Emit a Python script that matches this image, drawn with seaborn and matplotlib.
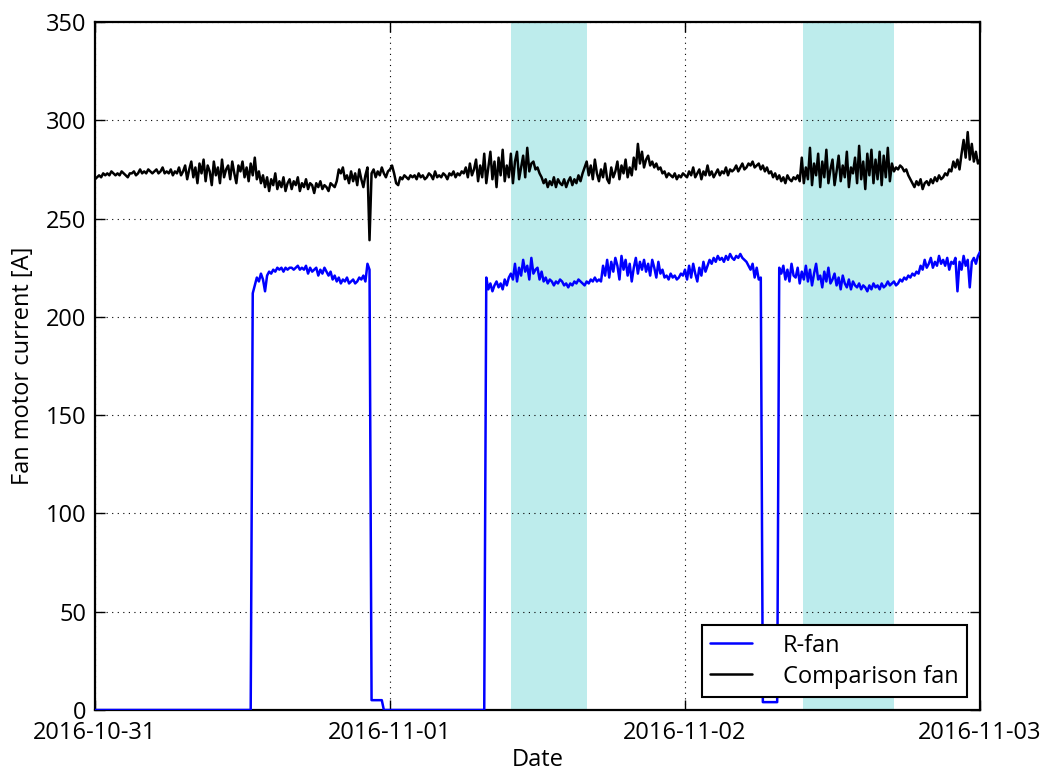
import numpy as np
import pandas as pd
import matplotlib
matplotlib.use("Agg")
import matplotlib.pyplot as plt
import matplotlib.dates as mdates
import seaborn as sns

# ---------------- data (10-minute samples) ----------------
start_time = "2016-10-31 00:00"
sample_freq = "10min"

comparison_day1 = [
    270, 271, 272, 271, 273, 272, 273, 272, 274, 273, 272, 273,
    272, 274, 273, 272, 271, 273, 273, 274, 272, 273, 275, 273,
    274, 273, 275, 274, 273, 274, 275, 273, 274, 276, 273, 274,
    273, 275, 272, 274, 273, 276, 272, 274, 277, 270, 275, 279,
    271, 276, 268, 278, 273, 280, 269, 277, 274, 267, 279, 272,
    276, 268, 280, 271, 275, 277, 270, 279, 273, 268, 277, 274,
    279, 271, 276, 269, 278, 272, 281, 270, 274, 268, 272, 266,
    271, 264, 270, 267, 273, 265, 269, 266, 271, 264, 268, 270,
    265, 269, 267, 271, 264, 268, 266, 270, 265, 268, 267, 263,
    268, 266, 269, 265, 267, 266, 264, 268, 267, 266, 269, 275,
    273, 276, 270, 272, 268, 274, 269, 273, 267, 275, 270, 266,
    272, 276, 239, 273, 275, 271, 274, 272, 276, 273, 271, 274,
]
comparison_day2 = [
    275, 277, 273, 268, 267, 271, 270, 272, 271, 270, 272, 271,
    272, 270, 273, 271, 272, 270, 271, 273, 272, 270, 274, 271,
    272, 271, 273, 272, 270, 273, 272, 274, 271, 273, 272, 274,
    273, 276, 271, 278, 272, 275, 280, 269, 277, 271, 283, 268,
    276, 284, 270, 279, 266, 281, 272, 285, 269, 277, 271, 283,
    268, 279, 284, 270, 276, 282, 271, 286, 274, 278, 279, 275,
    276, 273, 271, 268, 270, 266, 269, 267, 271, 266, 270, 268,
    267, 270, 266, 269, 271, 267, 270, 268, 272, 269, 273, 276,
    279, 272, 277, 270, 280, 273, 269, 275, 271, 278, 270, 268,
    276, 271, 274, 279, 270, 277, 273, 280, 271, 276, 272, 281,
    275, 288, 278, 284, 276, 280, 282, 277, 279, 276, 278, 275,
    276, 273, 274, 271, 273, 272, 271, 273, 270, 272, 271, 273,
]
comparison_day3 = [
    272, 271, 274, 272, 276, 271, 273, 275, 270, 274, 272, 277,
    272, 274, 271, 273, 275, 272, 274, 273, 276, 272, 275, 274,
    275, 277, 274, 276, 278, 275, 276, 278, 277, 279, 276, 277,
    278, 275, 277, 274, 276, 273, 274, 271, 273, 270, 272, 269,
    271, 268, 272, 270, 269, 271, 270, 272, 269, 281, 268, 276,
    270, 286, 267, 278, 272, 283, 266, 279, 271, 285, 268, 275,
    280, 267, 274, 282, 269, 277, 271, 284, 266, 276, 273, 281,
    268, 287, 270, 279, 265, 283, 272, 285, 268, 280, 270, 284,
    267, 282, 271, 286, 269, 278, 274, 276, 275, 277, 276, 274,
    275, 272, 270, 268, 266, 269, 267, 270, 265, 268, 269, 267,
    270, 268, 271, 269, 272, 270, 271, 273, 272, 275, 274, 279,
    276, 280, 275, 283, 290, 281, 294, 280, 288, 279, 284, 278,
    280,
]

rfan_day1 = [0] * 72 + [
    0, 0, 0, 0, 0, 212, 216, 220, 218, 222, 219, 213,
    221, 223, 222, 224, 223, 225, 224, 225, 223, 225, 224, 225,
    225, 224, 225, 226, 224, 225, 224, 226, 222, 225, 223, 224,
    225, 221, 224, 222, 225, 223, 221, 223, 219, 221, 218, 220,
    217, 219, 218, 220, 217, 218, 219, 217, 218, 220, 219, 221,
    218, 227, 224, 5, 5, 5, 5, 5, 5, 0, 0, 0,
]
rfan_day2 = [0] * 42 + [
    0, 0, 0, 0, 0, 220, 214, 217, 213, 216, 218, 215,
    217, 214, 219, 216, 220, 222, 219, 227, 218, 225, 221, 229,
    223, 226, 219, 230, 222, 224, 225, 219, 223, 218, 220, 217,
    219, 218, 216, 218, 217, 219, 218, 216, 217, 215, 217, 216,
    218, 217, 219, 218, 217, 216, 218, 217, 219, 218, 220, 218,
    219, 218, 226, 221, 229, 220, 228, 223, 230, 226, 219, 231,
    224, 229, 221, 227, 218, 225, 230, 222, 228, 224, 229, 223,
    227, 221, 229, 225, 220, 228, 222, 224, 220, 221, 219, 222,
    220, 221, 219, 220, 222, 221,
]
rfan_day3 = [
    224, 219, 226, 220, 227, 222, 218, 225, 221, 228, 223, 226,
    229, 227, 230, 228, 231, 229, 230, 228, 231, 229, 232, 230,
    229, 231, 230, 232, 230, 229, 228, 226, 224, 227, 220, 225,
    219, 220, 4, 4, 4, 4, 4, 4, 4, 4, 225, 222,
    226, 219, 224, 218, 227, 221, 220, 225, 217, 223, 219, 226,
    218, 224, 216, 222, 227, 219, 221, 215, 223, 218, 225, 217,
    219, 222, 216, 220, 214, 221, 217, 215, 219, 214, 218, 216,
    215, 217, 214, 216, 215, 213, 216, 214, 217, 215, 216, 214,
    217, 215, 216, 218, 216, 217, 218, 216, 217, 219, 218, 220,
    219, 221, 220, 222, 221, 223, 222, 226, 224, 229, 225, 227,
    230, 225, 228, 226, 231, 227, 229, 226, 230, 224, 228, 227,
    230, 213, 228, 224, 231, 226, 229, 215, 228, 230, 227, 231,
    233,
]

shade_periods = [
    ("2016-11-01 09:50", "2016-11-01 16:00"),
    ("2016-11-02 09:35", "2016-11-02 17:00"),
]

series_names = ["R-fan", "Comparison fan"]
x_limits = ("2016-10-31", "2016-11-03")
y_limits = (0, 350)
y_ticks = [0, 50, 100, 150, 200, 250, 300, 350]

# ---------------- build frame ----------------
rfan = rfan_day1 + rfan_day2 + rfan_day3
comp = comparison_day1 + comparison_day2 + comparison_day3
times = pd.date_range(start=start_time, periods=len(rfan), freq=sample_freq)
df = pd.concat([
    pd.DataFrame({"Date": times, "value": rfan, "series": series_names[0]}),
    pd.DataFrame({"Date": times, "value": comp, "series": series_names[1]}),
], ignore_index=True)

# ---------------- style ----------------
sns.set_style("ticks")
plt.rcParams["font.family"] = ["Open Sans", "DejaVu Sans"]
plt.rcParams["xtick.direction"] = "in"
plt.rcParams["ytick.direction"] = "in"
plt.rcParams["text.color"] = "black"
plt.rcParams["axes.labelcolor"] = "black"
plt.rcParams["xtick.color"] = "black"
plt.rcParams["ytick.color"] = "black"
plt.rcParams["xtick.labelcolor"] = "black"
plt.rcParams["ytick.labelcolor"] = "black"

fig = plt.figure(figsize=(10.51, 7.73), dpi=100)
ax = fig.add_axes([95 / 1051, 1 - 710 / 773, 885 / 1051, 688 / 773])

for s, e in shade_periods:
    ax.axvspan(pd.Timestamp(s), pd.Timestamp(e), color="#bdecec", lw=0, zorder=0)

sns.lineplot(data=df, x="Date", y="value", hue="series",
             palette={"R-fan": "#0000ff", "Comparison fan": "#000000"},
             linewidth=1.8, ax=ax, estimator=None, zorder=3)

ax.set_xlim(pd.Timestamp(x_limits[0]), pd.Timestamp(x_limits[1]))
ax.set_ylim(*y_limits)
ax.set_yticks(y_ticks)
ax.xaxis.set_major_locator(mdates.DayLocator())
ax.xaxis.set_major_formatter(mdates.DateFormatter("%Y-%m-%d"))

ax.grid(True, color="black", linestyle=(0, (1, 4)), linewidth=0.8)
ax.set_axisbelow(False)
ax.tick_params(axis="both", which="major", labelsize=17, length=7, width=1,
               top=True, right=True, colors="black", pad=6)
ax.tick_params(axis="x", pad=8)
for sp in ax.spines.values():
    sp.set_visible(True)
    sp.set_color("black")
    sp.set_linewidth(1.6)

ax.set_xlabel("Date", fontsize=17, labelpad=2, color="black")
ax.set_ylabel("Fan motor current [A]", fontsize=17, labelpad=8, color="black")

leg = ax.legend(loc="lower right", fontsize=17, frameon=True, fancybox=False,
                edgecolor="black", framealpha=1, handlelength=1.8,
                handletextpad=1.3, borderpad=0.35, labelspacing=0.3,
                borderaxespad=0.55)
leg.get_frame().set_linewidth(1.5)
for line in leg.get_lines():
    line.set_linewidth(1.8)
for t in leg.get_texts():
    t.set_color("black")

fig.savefig("out.png", dpi=100)
